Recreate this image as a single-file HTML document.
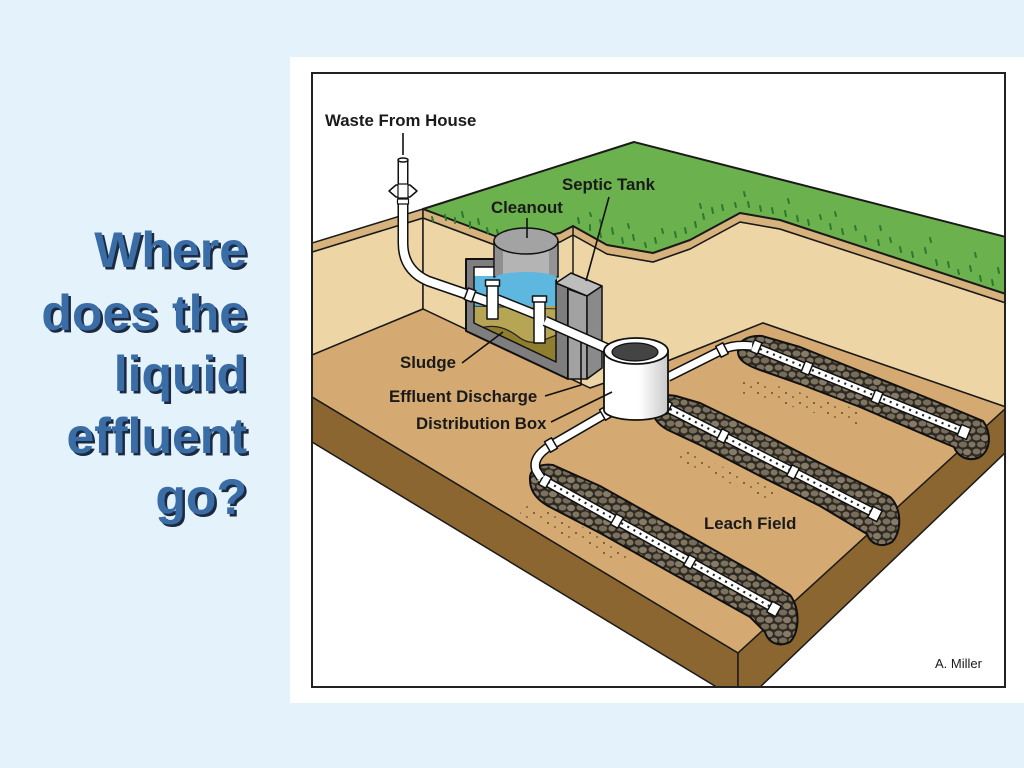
<!DOCTYPE html>
<html><head><meta charset="utf-8"><style>
html,body{margin:0;padding:0;background:#E4F2FB;}
svg{display:block;}
</style></head><body>
<svg width="1024" height="768" viewBox="0 0 1024 768" xmlns="http://www.w3.org/2000/svg">
<defs>
<pattern id="gr" width="18" height="14" patternUnits="userSpaceOnUse">
<rect width="18" height="14" fill="#2e2923"/>
<ellipse cx="4.5" cy="3.5" rx="4" ry="3" fill="#7b715f"/>
<ellipse cx="13" cy="4" rx="4" ry="3.2" fill="#867b67"/>
<ellipse cx="9" cy="10.5" rx="4.2" ry="3" fill="#766c5a"/>
<ellipse cx="0" cy="10.5" rx="3.5" ry="3" fill="#80765f"/>
<ellipse cx="18" cy="10.5" rx="3.5" ry="3" fill="#80765f"/>
</pattern>
<pattern id="dt" width="14" height="10" patternUnits="userSpaceOnUse">
<circle cx="2" cy="3" r="1" fill="#6a4a1e"/><circle cx="9" cy="7" r="0.9" fill="#6a4a1e"/>
</pattern>
<clipPath id="fr"><rect x="312" y="73" width="693" height="614"/></clipPath>
<clipPath id="cav"><path d="M474,267 L556,267 L556,362 L474,323 Z"/></clipPath>
<linearGradient id="db" x1="0" x2="1" y1="0" y2="0">
<stop offset="0" stop-color="#ffffff"/><stop offset="0.55" stop-color="#ffffff"/><stop offset="1" stop-color="#c9c9c9"/>
</linearGradient>
</defs>
<rect width="1024" height="768" fill="#E4F2FB"/>
<rect x="290" y="57" width="734" height="646" fill="#ffffff"/>

<g font-family="Liberation Sans, Arial, sans-serif" font-weight="bold" font-size="50" text-anchor="end">
<g fill="#1b2a40" transform="translate(2.5,2.5)">
<text x="247" y="267">Where</text><text x="247" y="330">does the</text><text x="247" y="391">liquid</text><text x="247" y="453">effluent</text><text x="247" y="514">go?</text>
</g>
<g fill="#3A6CA6">
<text x="247" y="267">Where</text><text x="247" y="330">does the</text><text x="247" y="391">liquid</text><text x="247" y="453">effluent</text><text x="247" y="514">go?</text>
</g>
</g>

<g clip-path="url(#fr)" stroke-linejoin="round">
<path d="M312,252 L423,218 L423,309 L312,355 Z" fill="#EDD5A6" stroke="#1a1a1a" stroke-width="1.5"/>
<path d="M312,243 L423,209 L423,218 L312,252 Z" fill="#D6B27C" stroke="#1a1a1a" stroke-width="1.5"/>
<path d="M423,218 L495,245 L530,248 L560,242 L573,235 L607,254 L653,262 L690,249 L740,222 L780,229 L1006,303 L1006,407 L763,323 L660,364 L590,388 L423,309 Z" fill="#EDD5A6" stroke="#1a1a1a" stroke-width="1.5"/>
<path d="M423,209 L495,236 L530,239 L560,233 L573,226 L607,245 L653,253 L690,240 L740,213 L780,220 L1006,294 L1006,303 L780,229 L740,222 L690,249 L653,262 L607,254 L573,235 L560,242 L530,248 L495,245 L423,218 Z" fill="#D6B27C" stroke="#1a1a1a" stroke-width="1.5"/>
<path d="M423,209 L634,142 L1006,237 L1006,294 L780,220 L740,213 L690,240 L653,253 L607,245 L573,226 L560,233 L530,239 L495,236 Z" fill="#6BB14D" stroke="#1a1a1a" stroke-width="2"/>
<line x1="573" y1="226" x2="573" y2="285" stroke="#1a1a1a" stroke-width="1.5"/>
<g stroke="#2a7a30" stroke-width="2" stroke-linecap="round">
<path d="M445,215l1,5M455,218l0,5M462,212l1,5M470,222l0,6M478,219l1,5M487,228l1,5M432,217l1,4M497,230l1,4M578,218l1,5M590,225l0,5M600,232l1,5M612,228l1,6M622,238l1,5M633,235l1,5M645,243l1,4M655,238l1,5M675,232l1,5M685,228l1,5M695,222l1,5M703,214l1,5M712,208l1,5M722,205l1,5M735,203l1,4M748,202l1,5M760,206l1,5M772,208l1,5M785,211l1,5M797,216l1,5M808,220l1,5M820,215l1,4M830,224l1,5M842,229l1,5M855,226l1,4M865,236l1,5M878,240l1,5M890,238l1,4M900,247l1,5M912,252l1,5M925,248l1,5M936,260l1,5M948,262l1,5M958,270l1,4M970,266l1,5M980,276l1,5M992,280l1,5M998,268l1,5M628,224l1,4M662,229l1,4M700,204l1,4M744,192l1,4M788,199l1,4M835,212l1,4M880,226l1,4M930,238l1,4M975,253l1,4M600,220l1,4M590,213l1,3"/>
</g>
<path d="M312,355 L423,309 L590,388 L660,364 L763,323 L1006,407 L1006,410 L738,653 L312,397 Z" fill="#D5AA72" stroke="#1a1a1a" stroke-width="1.5"/>
<path d="M312,397 L738,653 L738,700 L312,442 Z" fill="#8B6631" stroke="#1a1a1a" stroke-width="1.5"/>
<path d="M738,653 L1006,408 L1006,452 L757,690 L738,690 Z" fill="#8B6631" stroke="#1a1a1a" stroke-width="1.5"/>
<path d="M740,375 L860,410 L858,425 L738,392 Z" fill="url(#dt)"/>
<path d="M680,448 L775,490 L772,502 L678,460 Z" fill="url(#dt)"/>
<path d="M522,500 L630,548 L628,566 L520,515 Z" fill="url(#dt)"/>

<path d="M738,352 C737,341 748,335 762,336 L800,347 L860,371 L930,399 L983,421 C992,433 991,452 978,458 C966,462 957,455 954,447 L930,437 L860,407 L800,384 L760,370 C746,365 738,360 738,352 Z" fill="url(#gr)" stroke="#111" stroke-width="2"/>
<path d="M652,408 C651,398 662,393 676,396 L700,403 L760,432 L820,463 L890,497 C902,508 902,532 892,542 C880,549 870,543 867,534 L820,506 L760,476 L700,445 L668,430 C657,424 652,416 652,408 Z" fill="url(#gr)" stroke="#111" stroke-width="2"/>
<path d="M530,480 C529,469 540,463 553,465 L600,486 L650,514 L700,542 L755,573 L790,595 C800,608 800,632 790,642 C778,648 768,642 765,632 L750,617 L700,589 L650,561 L600,533 L548,506 C536,499 530,490 530,480 Z" fill="url(#gr)" stroke="#111" stroke-width="2"/>

<g fill="none" stroke-linecap="butt">
<path d="M752,346 L967,433" stroke="#111" stroke-width="10"/>
<path d="M752,346 L967,433" stroke="#fff" stroke-width="7"/>
<path d="M760,349 L962,431" stroke="#222" stroke-width="2.2" stroke-dasharray="2 5"/>
<path d="M662,405 L878,515" stroke="#111" stroke-width="10"/>
<path d="M662,405 L878,515" stroke="#fff" stroke-width="7"/>
<path d="M670,409 L872,512" stroke="#222" stroke-width="2.2" stroke-dasharray="2 5"/>
<path d="M540,478 L777,610" stroke="#111" stroke-width="10"/>
<path d="M540,478 L777,610" stroke="#fff" stroke-width="7"/>
<path d="M548,482 L771,607" stroke="#222" stroke-width="2.2" stroke-dasharray="2 5"/>
</g>
<g fill="#fff" stroke="#111" stroke-width="1.5">
<rect x="-4" y="-6" width="8" height="12" transform="translate(807,368) rotate(22)"/>
<rect x="-4" y="-6" width="8" height="12" transform="translate(877,397) rotate(22)"/>
<rect x="-5" y="-6" width="10" height="12" transform="translate(964,432) rotate(22)"/>
<rect x="-4" y="-6" width="8" height="12" transform="translate(756,347) rotate(22)"/>
<rect x="-4" y="-6" width="8" height="12" transform="translate(723,436) rotate(27)"/>
<rect x="-4" y="-6" width="8" height="12" transform="translate(793,472) rotate(27)"/>
<rect x="-5" y="-6" width="10" height="12" transform="translate(875,514) rotate(27)"/>
<rect x="-4" y="-6" width="8" height="12" transform="translate(666,407) rotate(27)"/>
<rect x="-4" y="-6" width="8" height="12" transform="translate(545,481) rotate(29)"/>
<rect x="-4" y="-6" width="8" height="12" transform="translate(617,521) rotate(29)"/>
<rect x="-4" y="-6" width="8" height="12" transform="translate(690,562) rotate(29)"/>
<rect x="-5" y="-6" width="10" height="12" transform="translate(774,609) rotate(29)"/>
</g>

<path d="M466,259 L497,259 L497,262 L556,262 L556,283 L568,287 L568,379 L466,331 Z" fill="#7e7e7e" stroke="#111" stroke-width="2"/>
<g clip-path="url(#cav)">
<rect x="470" y="260" width="90" height="50" fill="#5DB7DF"/>
<rect x="470" y="260" width="26" height="16" fill="#ffffff"/>
<rect x="470" y="306" width="90" height="70" fill="#B7A556"/>
<line x1="470" y1="306" x2="560" y2="309" stroke="#333" stroke-width="1"/>
<path d="M470,332 C490,322 505,326 520,338 C535,348 545,338 560,334 L560,375 L470,375 Z" fill="#8F7E2D" stroke="#222" stroke-width="1.2"/>
</g>
<path d="M474,267 L556,267 L556,362 L474,323 Z" fill="none" stroke="#111" stroke-width="1.5"/>
<rect x="494" y="241" width="64" height="36" fill="#b4b4b4" stroke="#111" stroke-width="1.5"/>
<rect x="495" y="242" width="8" height="34" fill="#8f8f8f"/>
<rect x="549" y="242" width="8" height="34" fill="#949494"/>
<ellipse cx="526" cy="278" rx="31" ry="6" fill="#5DB7DF"/>
<ellipse cx="526" cy="241" rx="32" ry="13" fill="#a3a3a3" stroke="#111" stroke-width="1.5"/>
<path d="M556,283 L571,273 L602,286 L587,296 Z" fill="#bdbdbd" stroke="#111" stroke-width="1.5"/>
<path d="M568,289 L587,296 L587,379 L568,379 Z" fill="#a2a2a2" stroke="#111" stroke-width="1.5"/>
<path d="M587,296 L602,286 L602,368 L587,379 Z" fill="#8a8a8a" stroke="#111" stroke-width="1.5"/>

<path d="M403,160 L403,243 Q403,270 428,281 L492,303" fill="none" stroke="#111" stroke-width="11"/>
<path d="M403,160 L403,243 Q403,270 428,281 L492,303" fill="none" stroke="#fff" stroke-width="8"/>
<ellipse cx="403" cy="160" rx="5" ry="2" fill="#fff" stroke="#111" stroke-width="1.5"/>
<path d="M389,191 L396,185 L410,185 L417,191 L410,197 L396,197 Z" fill="#fff" stroke="#111" stroke-width="1.5"/>
<rect x="398" y="184" width="10" height="14" fill="#fff" stroke="#111" stroke-width="1.2"/>
<rect x="397.5" y="199" width="11" height="5" fill="#fff" stroke="#111" stroke-width="1.2"/>
<rect x="-4" y="-6" width="8" height="12" transform="translate(470,295) rotate(20)" fill="#fff" stroke="#111" stroke-width="1.5"/>
<path d="M497,299 L537,315" stroke="#111" stroke-width="10"/>
<path d="M497,299 L537,315" stroke="#fff" stroke-width="7"/>
<rect x="487" y="283" width="11" height="36" fill="#fff" stroke="#111" stroke-width="1.5"/>
<rect x="485.5" y="280" width="14" height="6" fill="#fff" stroke="#111" stroke-width="1.5"/>
<rect x="534" y="299" width="11" height="44" fill="#fff" stroke="#111" stroke-width="1.5"/>
<rect x="532.5" y="296" width="14" height="6" fill="#fff" stroke="#111" stroke-width="1.5"/>
<path d="M545,321 L615,352" stroke="#111" stroke-width="11"/>
<path d="M545,321 L615,352" stroke="#fff" stroke-width="8"/>

<path d="M668,377 L722,350 Q733,344 752,346" fill="none" stroke="#111" stroke-width="10"/>
<path d="M668,377 L722,350 Q733,344 752,346" fill="none" stroke="#fff" stroke-width="7"/>
<rect x="-4" y="-6" width="8" height="12" transform="translate(722,350) rotate(-27)" fill="#fff" stroke="#111" stroke-width="1.5"/>
<path d="M612,410 L550,446 Q532,457 536,470 L541,478" fill="none" stroke="#111" stroke-width="10"/>
<path d="M612,410 L550,446 Q532,457 536,470 L541,478" fill="none" stroke="#fff" stroke-width="7"/>
<rect x="-4" y="-6" width="8" height="12" transform="translate(606,413) rotate(-30)" fill="#fff" stroke="#111" stroke-width="1.5"/>
<rect x="-4" y="-6" width="8" height="12" transform="translate(551,445) rotate(-30)" fill="#fff" stroke="#111" stroke-width="1.5"/>
<path d="M650,398 L664,406" stroke="#111" stroke-width="10"/>
<path d="M650,398 L664,406" stroke="#fff" stroke-width="7"/>

<path d="M604,351 L604,410 A32,10 0 0 0 668,410 L668,351 Z" fill="url(#db)" stroke="#111" stroke-width="1.8"/>
<ellipse cx="636" cy="351" rx="32" ry="13" fill="#fff" stroke="#111" stroke-width="1.8"/>
<ellipse cx="635" cy="352" rx="23" ry="9" fill="#444" stroke="#111" stroke-width="1.2"/>

<g stroke="#111" stroke-width="1.6" fill="none">
<line x1="403" y1="133" x2="403" y2="155"/>
<line x1="609" y1="197" x2="586" y2="281"/>
<line x1="527" y1="218" x2="527" y2="238"/>
<line x1="462" y1="363" x2="503" y2="332"/>
<polyline points="545,396 581,385 581,342"/>
<line x1="551" y1="422" x2="612" y2="392"/>
</g>
<g font-family="Liberation Sans, Arial, sans-serif" font-weight="bold" font-size="16.8" fill="#1a1a1a">
<text x="325" y="126">Waste From House</text>
<text x="562" y="190">Septic Tank</text>
<text x="491" y="213">Cleanout</text>
<text x="400" y="368">Sludge</text>
<text x="389" y="402">Effluent Discharge</text>
<text x="416" y="429">Distribution Box</text>
<text x="704" y="529">Leach Field</text>
</g>
<text x="935" y="668" font-family="Liberation Sans, Arial, sans-serif" font-size="13" fill="#1a1a1a">A. Miller</text>
</g>
<rect x="312" y="73" width="693" height="614" fill="none" stroke="#222" stroke-width="2"/>
</svg>
</body></html>
